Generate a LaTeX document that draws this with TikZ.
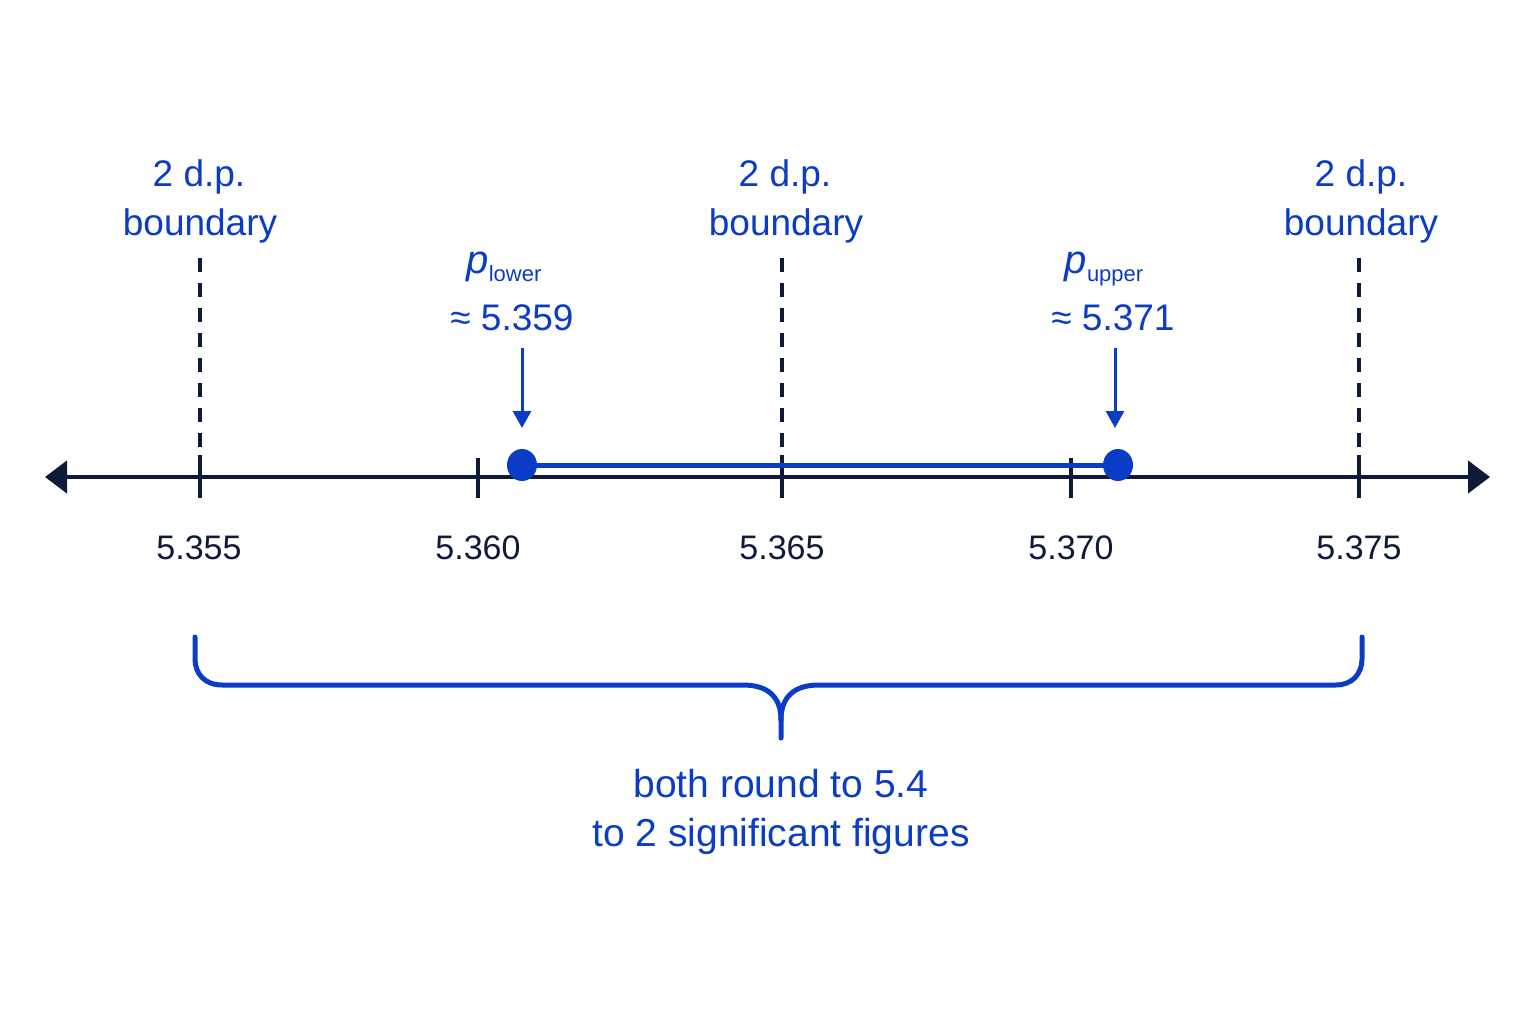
\documentclass[tikz,border=0pt]{standalone}
\usepackage{fontspec}
\setmainfont{Liberation Sans}
\usetikzlibrary{arrows.meta,shapes.geometric}
\definecolor{navy}{HTML}{0F1A38}
\definecolor{blu}{HTML}{0B3CC6}
\tikzset{
  axisline/.style={navy, line width=4.5pt},
  tickmark/.style={navy, line width=3.5pt},
  dashline/.style={navy, line width=3.5pt, dash pattern=on 14pt off 11pt},
  ticklabel/.style={navy, anchor=base, inner sep=0pt, font=\fontsize{34}{34}\selectfont},
  bluelabel/.style={blu, anchor=base, inner sep=0pt, font=\fontsize{37}{37}\selectfont},
  bottomlabel/.style={blu, anchor=base, inner sep=0pt, font=\fontsize{39}{39}\selectfont},
  pointer/.style={blu, line width=3pt, -{Triangle[length=17pt,width=18pt]}},
  blueline/.style={blu, line width=5pt},
  dot/.style={draw=none, fill=blu, ellipse, minimum width=30pt, minimum height=32pt, inner sep=0pt},
  bracepath/.style={blu, line width=5pt, line cap=round},
}
\newcommand{\plabel}[1]{{\fontsize{40}{40}\selectfont\itshape p}\raisebox{-7pt}{\fontsize{22}{22}\selectfont #1}}
\begin{document}
\begin{tikzpicture}[x=1pt, y=-1pt]
\useasboundingbox[fill=white] (0,0) rectangle (1536,1024);
% axis
\coordinate (axL) at (45,477);
\coordinate (axR) at (1490,477);
\draw[axisline, {Triangle[length=22pt,width=32pt]}-{Triangle[length=22pt,width=32pt]}] (axL) -- (axR);
% dashed boundaries
\foreach \n/\x in {a/200, b/782, c/1359} {
  \coordinate (d\n top) at (\x,258);
  \coordinate (d\n bot) at (\x,452);
  \coordinate (t\n top) at (\x,455);
  \coordinate (t\n bot) at (\x,498);
  \draw[dashline] (d\n top) -- (d\n bot);
  \draw[tickmark] (t\n top) -- (t\n bot);
}
% minor ticks
\foreach \n/\x in {m/478, n/1071} {
  \coordinate (t\n top) at (\x,458);
  \coordinate (t\n bot) at (\x,498);
  \draw[tickmark] (t\n top) -- (t\n bot);
}
% tick labels
\node[ticklabel] (l355) at (199,559) {5.355};
\node[ticklabel] (l360) at (478,559) {5.360};
\node[ticklabel] (l365) at (782,559) {5.365};
\node[ticklabel] (l370) at (1071,559) {5.370};
\node[ticklabel] (l375) at (1359,559) {5.375};
% boundary labels
\node[bluelabel] (b1a) at (199,187) {2 d.p.};
\node[bluelabel] (b1b) at (200,236) {boundary};
\node[bluelabel] (b2a) at (785,187) {2 d.p.};
\node[bluelabel] (b2b) at (786,236) {boundary};
\node[bluelabel] (b3a) at (1361,187) {2 d.p.};
\node[bluelabel] (b3b) at (1361,236) {boundary};
% p labels
\node[blu, anchor=base, inner sep=0pt] (plo) at (504,274) {\plabel{lower}};
\node[bluelabel] (plov) at (512,330) {≈ 5.359};
\node[blu, anchor=base, inner sep=0pt] (pup) at (1104,274) {\plabel{upper}};
\node[bluelabel] (pupv) at (1113,330) {≈ 5.371};
% interval
\node[dot] (dl) at (522,465) {};
\node[dot] (du) at (1118,465) {};
\draw[blueline] (dl.center) -- (du.center);
\coordinate (arl) at (522,348);
\coordinate (arlt) at (522,428);
\coordinate (aru) at (1115,348);
\coordinate (arut) at (1115,428);
\draw[pointer] (arl) -- (arlt);
\draw[pointer] (aru) -- (arut);
% brace
\draw[bracepath] (195,637) -- (195,659) .. controls (195,674) and (205,685) .. (222,685) -- (743,685)
  .. controls (768,685) and (781,697) .. (781,720) -- (781,738);
\draw[bracepath] (781,720) .. controls (781,697) and (794,685) .. (819,685) -- (1336,685)
  .. controls (1352,685) and (1362,674) .. (1362,659) -- (1362,637);
% bottom text
\node[bottomlabel] (bt1) at (781,797) {both round to 5.4};
\node[bottomlabel] (bt2) at (781,846) {to 2 significant figures};
\end{tikzpicture}
\end{document}
